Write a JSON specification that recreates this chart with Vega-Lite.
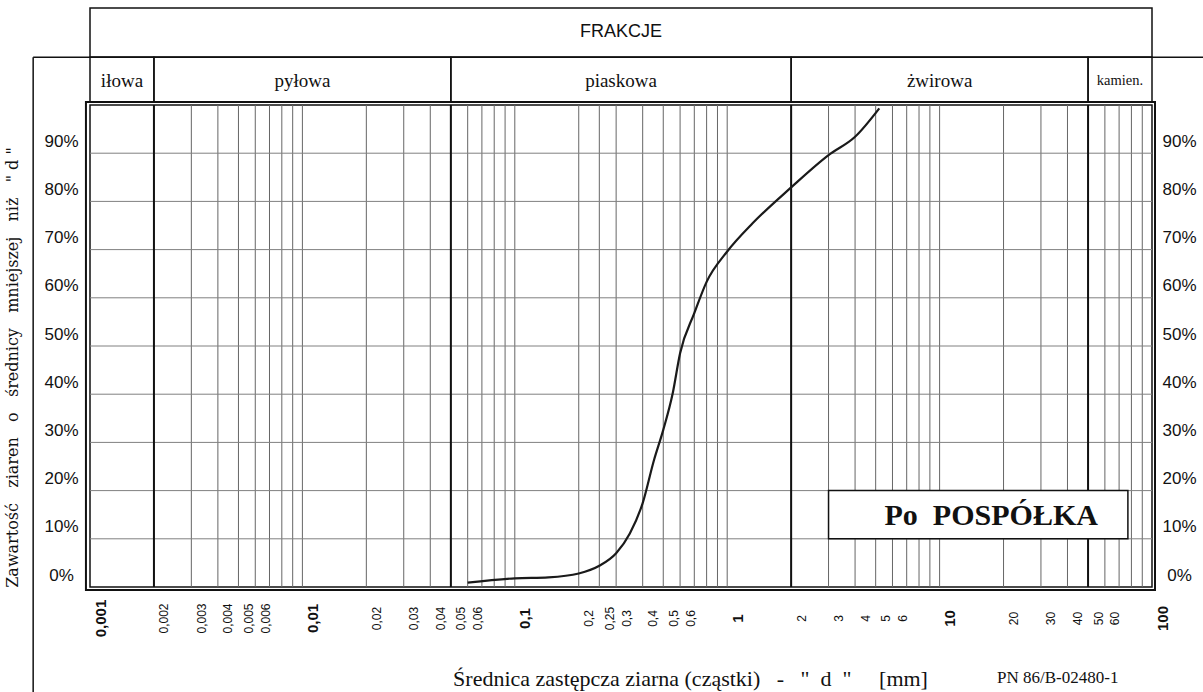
{
  "$schema": "https://vega.github.io/schema/vega-lite/v6.json",
  "width": 1062,
  "height": 482,
  "autosize": {"type": "none"},
  "padding": {"left": 90, "top": 105, "right": 51, "bottom": 105},
  "background": "white",
  "config": {
    "view": {"stroke": "#111", "strokeWidth": 1.5},
    "axis": {"labelColor": "#111", "titleColor": "#111"}
  },
  "datasets": {
    "curve": [
      {"d": 0.06, "p": 0.9},
      {"d": 0.1, "p": 1.8},
      {"d": 0.144, "p": 2.0},
      {"d": 0.2, "p": 2.8},
      {"d": 0.25, "p": 4.4},
      {"d": 0.3, "p": 7.0},
      {"d": 0.348, "p": 11.1},
      {"d": 0.4, "p": 17.4},
      {"d": 0.452, "p": 26.3},
      {"d": 0.5, "p": 32.6},
      {"d": 0.554, "p": 40.2},
      {"d": 0.6, "p": 48.5},
      {"d": 0.7, "p": 56.8},
      {"d": 0.8, "p": 63.3},
      {"d": 1.0, "p": 69.6},
      {"d": 1.32, "p": 75.5},
      {"d": 2.0, "p": 82.9},
      {"d": 3.0, "p": 89.6},
      {"d": 4.0, "p": 93.4},
      {"d": 5.2, "p": 99.3}
    ],
    "hgrid": [{"p": 10}, {"p": 20}, {"p": 30}, {"p": 40}, {"p": 50}, {"p": 60}, {"p": 70}, {"p": 80}, {"p": 90}],
    "vgrid": [
      {"d": 0.002}, {"d": 0.003}, {"d": 0.004}, {"d": 0.005}, {"d": 0.006}, {"d": 0.007}, {"d": 0.008}, {"d": 0.009},
      {"d": 0.01}, {"d": 0.02}, {"d": 0.03}, {"d": 0.04}, {"d": 0.05}, {"d": 0.06}, {"d": 0.07}, {"d": 0.08}, {"d": 0.09},
      {"d": 0.1}, {"d": 0.2}, {"d": 0.25}, {"d": 0.3}, {"d": 0.4}, {"d": 0.5}, {"d": 0.6}, {"d": 0.7}, {"d": 0.8}, {"d": 0.9},
      {"d": 1}, {"d": 2}, {"d": 3}, {"d": 4}, {"d": 5}, {"d": 6}, {"d": 7}, {"d": 8}, {"d": 9},
      {"d": 10}, {"d": 20}, {"d": 30}, {"d": 40}, {"d": 50}, {"d": 60}, {"d": 70}, {"d": 80}, {"d": 90}
    ],
    "bold": [{"d": 0.002}, {"d": 0.05}, {"d": 2}, {"d": 50}],
    "fractions": [
      {"name": "iłowa", "lo": 0.001, "hi": 0.002},
      {"name": "pyłowa", "lo": 0.002, "hi": 0.05},
      {"name": "piaskowa", "lo": 0.05, "hi": 2},
      {"name": "żwirowa", "lo": 2, "hi": 50},
      {"name": "kamien.", "lo": 50, "hi": 100}
    ],
    "frakcje": [{"name": "FRAKCJE", "lo": 0.001, "hi": 100}],
    "soil": [{"name": "Po\u00a0\u00a0POSPÓŁKA"}],
    "norm": [{"name": "PN 86/B-02480-1"}],
    "one": [{}]
  },
  "resolve": {"axis": {"y": "independent"}},
  "layer": [
    {
      "data": {"name": "vgrid"},
      "mark": {"type": "rule", "stroke": "#666", "strokeWidth": 1},
      "encoding": {
        "x": {
          "field": "d", "type": "quantitative",
          "scale": {"type": "log", "domain": [0.001, 100], "nice": false},
          "axis": {
            "orient": "bottom",
            "values": [0.001, 0.002, 0.003, 0.004, 0.005, 0.006, 0.01, 0.02, 0.03, 0.04, 0.05, 0.06, 0.1, 0.2, 0.25, 0.3, 0.4, 0.5, 0.6, 1, 2, 3, 4, 5, 6, 10, 20, 30, 40, 50, 60, 100],
            "labelExpr": "replace(format(datum.value, ''), '.', ',')",
            "labelAngle": 270,
            "labelAlign": "center", "labelBaseline": "middle",
            "labelPadding": 31, "labelOffset": 10,
            "labelFont": "Liberation Sans",
            "labelFontSize": {"condition": {"test": "indexof([0.001, 0.01, 0.1, 1, 10, 100], datum.value) >= 0", "value": 15}, "value": 12},
            "labelFontWeight": {"condition": {"test": "indexof([0.001, 0.01, 0.1, 1, 10, 100], datum.value) >= 0", "value": "bold"}, "value": "normal"},
            "ticks": false, "domain": false, "grid": false,
            "labelOverlap": false, "labelBound": false, "labelFlush": false,
            "title": "Średnica zastępcza ziarna (cząstki)\u00a0\u00a0\u00a0-\u00a0\u00a0\u00a0\"\u00a0\u00a0d\u00a0\u00a0\"\u00a0\u00a0\u00a0\u00a0\u00a0[mm]",
            "titleFont": "Liberation Serif", "titleFontSize": 22, "titleFontWeight": "normal",
            "titleX": 600, "titleY": 91, "titleAlign": "center", "titleBaseline": "middle"
          }
        }
      }
    },
    {
      "data": {"name": "hgrid"},
      "mark": {"type": "rule", "stroke": "#808080", "strokeWidth": 1},
      "encoding": {
        "y": {
          "field": "p", "type": "quantitative",
          "scale": {"domain": [0, 100], "nice": false, "zero": false},
          "axis": {
            "orient": "left",
            "values": [0, 10, 20, 30, 40, 50, 60, 70, 80, 90],
            "labelExpr": "datum.value + '%'",
            "labelAlign": "center", "labelBaseline": "middle",
            "labelPadding": 29, "labelOffset": -12,
            "labelFont": "Liberation Sans", "labelFontSize": 17,
            "ticks": false, "domain": false, "grid": false,
            "labelOverlap": false, "labelBound": false, "labelFlush": false,
            "title": "Zawartość\u00a0\u00a0\u00a0ziaren\u00a0\u00a0\u00a0o\u00a0\u00a0\u00a0średnicy\u00a0\u00a0\u00a0mniejszej\u00a0\u00a0\u00a0niż\u00a0\u00a0\u00a0\"\u00a0d\u00a0\"",
            "titleFont": "DejaVu Serif", "titleFontSize": 16, "titleFontWeight": "normal",
            "titleAngle": 270, "titleX": -78, "titleY": 262,
            "titleAlign": "center", "titleBaseline": "middle"
          }
        }
      }
    },
    {
      "data": {"name": "hgrid"},
      "mark": {"type": "rule", "opacity": 0},
      "encoding": {
        "y": {
          "field": "p", "type": "quantitative",
          "scale": {"domain": [0, 100], "nice": false, "zero": false},
          "axis": {
            "orient": "right",
            "values": [0, 10, 20, 30, 40, 50, 60, 70, 80, 90],
            "labelExpr": "datum.value + '%'",
            "labelAlign": "center", "labelBaseline": "middle",
            "labelPadding": 27, "labelOffset": -12,
            "labelFont": "Liberation Sans", "labelFontSize": 17,
            "ticks": false, "domain": false, "grid": false,
            "labelOverlap": false, "labelBound": false, "labelFlush": false,
            "title": null
          }
        }
      }
    },
    {
      "data": {"name": "bold"},
      "mark": {"type": "rule", "stroke": "#111", "strokeWidth": 2},
      "encoding": {
        "x": {"field": "d", "type": "quantitative", "scale": {"type": "log", "domain": [0.001, 100], "nice": false}}
      }
    },
    {
      "data": {"name": "curve"},
      "mark": {"type": "line", "interpolate": "monotone", "color": "#1a1a1a", "strokeWidth": 2.2},
      "encoding": {
        "x": {"field": "d", "type": "quantitative", "scale": {"type": "log", "domain": [0.001, 100], "nice": false}},
        "y": {"field": "p", "type": "quantitative", "scale": {"domain": [0, 100], "nice": false, "zero": false}, "axis": null}
      }
    },
    {
      "data": {"name": "soil"},
      "mark": {"type": "rect", "fill": "white", "stroke": "#111", "strokeWidth": 1.5},
      "encoding": {
        "x": {"datum": 3, "type": "quantitative", "scale": {"type": "log", "domain": [0.001, 100], "nice": false}},
        "x2": {"datum": 77},
        "y": {"datum": 10, "type": "quantitative", "scale": {"domain": [0, 100], "nice": false, "zero": false}, "axis": null},
        "y2": {"datum": 20}
      }
    },
    {
      "data": {"name": "soil"},
      "mark": {"type": "text", "font": "Liberation Serif", "fontSize": 30, "fontWeight": "bold", "align": "center", "baseline": "middle", "color": "#111"},
      "encoding": {
        "x": {"datum": 17.5, "type": "quantitative", "scale": {"type": "log", "domain": [0.001, 100], "nice": false}},
        "y": {"datum": 14.8, "type": "quantitative", "scale": {"domain": [0, 100], "nice": false, "zero": false}, "axis": null},
        "text": {"field": "name"}
      }
    },
    {
      "data": {"name": "one"},
      "mark": {"type": "rect", "fill": null, "fillOpacity": 0, "stroke": "#111", "strokeWidth": 2},
      "encoding": {
        "x": {"datum": 0.000957, "type": "quantitative", "scale": {"type": "log", "domain": [0.001, 100], "nice": false}},
        "x2": {"datum": 103.3},
        "y": {"datum": -0.62, "type": "quantitative", "scale": {"domain": [0, 100], "nice": false, "zero": false}, "axis": null},
        "y2": {"datum": 100.6}
      }
    },
    {
      "data": {"name": "fractions"},
      "mark": {"type": "rect", "fill": null, "fillOpacity": 0, "stroke": "#111", "strokeWidth": 1.5},
      "encoding": {
        "x": {"field": "lo", "type": "quantitative", "scale": {"type": "log", "domain": [0.001, 100], "nice": false}},
        "x2": {"field": "hi"},
        "y": {"datum": 100.6, "type": "quantitative", "scale": {"domain": [0, 100], "nice": false, "zero": false}, "axis": null},
        "y2": {"datum": 109.9}
      }
    },
    {
      "data": {"name": "fractions"},
      "transform": [{"calculate": "sqrt(datum.lo * datum.hi)", "as": "mid"}],
      "mark": {"type": "text", "font": "Liberation Serif", "align": "center", "baseline": "middle", "color": "#111"},
      "encoding": {
        "x": {"field": "mid", "type": "quantitative", "scale": {"type": "log", "domain": [0.001, 100], "nice": false}},
        "y": {"datum": 104.9, "type": "quantitative", "scale": {"domain": [0, 100], "nice": false, "zero": false}, "axis": null},
        "text": {"field": "name"},
        "size": {"condition": {"test": "datum.name === 'kamien.'", "value": 14.5}, "value": 19}
      }
    },
    {
      "data": {"name": "frakcje"},
      "mark": {"type": "rect", "fill": null, "fillOpacity": 0, "stroke": "#111", "strokeWidth": 1.5},
      "encoding": {
        "x": {"field": "lo", "type": "quantitative", "scale": {"type": "log", "domain": [0.001, 100], "nice": false}},
        "x2": {"field": "hi"},
        "y": {"datum": 109.9, "type": "quantitative", "scale": {"domain": [0, 100], "nice": false, "zero": false}, "axis": null},
        "y2": {"datum": 120.1}
      }
    },
    {
      "data": {"name": "frakcje"},
      "transform": [{"calculate": "sqrt(datum.lo * datum.hi)", "as": "mid"}],
      "mark": {"type": "text", "font": "Liberation Sans", "fontSize": 18, "align": "center", "baseline": "middle", "color": "#111"},
      "encoding": {
        "x": {"field": "mid", "type": "quantitative", "scale": {"type": "log", "domain": [0.001, 100], "nice": false}},
        "y": {"datum": 115.1, "type": "quantitative", "scale": {"domain": [0, 100], "nice": false, "zero": false}, "axis": null},
        "text": {"field": "name"}
      }
    },
    {
      "data": {"name": "one"},
      "mark": {"type": "rule", "stroke": "#111", "strokeWidth": 1.5},
      "encoding": {
        "x": {"datum": 0.00054, "type": "quantitative", "scale": {"type": "log", "domain": [0.001, 100], "nice": false}},
        "x2": {"datum": 180},
        "y": {"datum": 109.9, "type": "quantitative", "scale": {"domain": [0, 100], "nice": false, "zero": false}, "axis": null}
      }
    },
    {
      "data": {"name": "one"},
      "mark": {"type": "rule", "stroke": "#111", "strokeWidth": 1.5},
      "encoding": {
        "x": {"datum": 0.00054, "type": "quantitative", "scale": {"type": "log", "domain": [0.001, 100], "nice": false}},
        "y": {"datum": -22, "type": "quantitative", "scale": {"domain": [0, 100], "nice": false, "zero": false}, "axis": null},
        "y2": {"datum": 109.9}
      }
    },
    {
      "data": {"name": "norm"},
      "mark": {"type": "text", "font": "Liberation Serif", "fontSize": 17, "align": "center", "baseline": "middle", "color": "#111"},
      "encoding": {
        "x": {"datum": 36, "type": "quantitative", "scale": {"type": "log", "domain": [0.001, 100], "nice": false}},
        "y": {"datum": -18.9, "type": "quantitative", "scale": {"domain": [0, 100], "nice": false, "zero": false}, "axis": null},
        "text": {"field": "name"}
      }
    }
  ]
}
